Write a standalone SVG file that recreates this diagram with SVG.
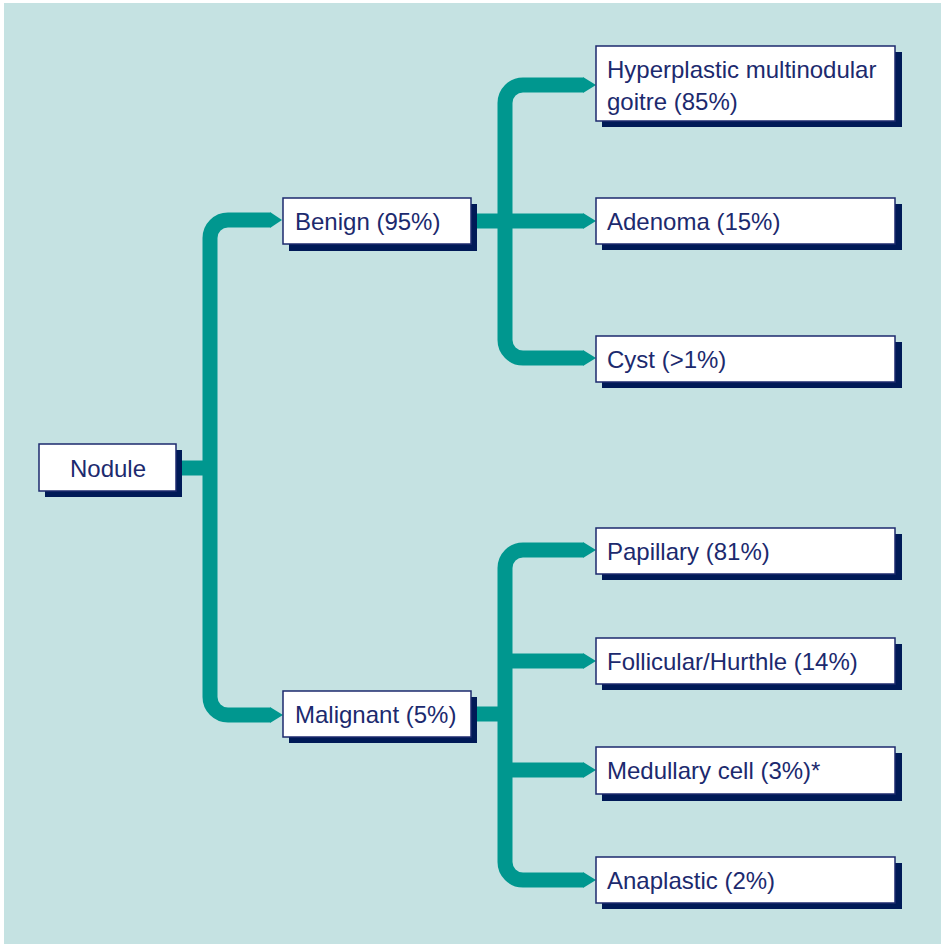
<svg xmlns="http://www.w3.org/2000/svg" width="941" height="944" viewBox="0 0 941 944">
<style>
.bg{fill:#c5e2e2}
.sh{fill:#001a57}
.bx{fill:#ffffff;stroke:#1c2a6e;stroke-width:1.5}
.t{font-family:"Liberation Sans",Arial,sans-serif;font-size:24px;fill:#1c2a6e}
.c{fill:none;stroke:#00978f;stroke-width:15;stroke-linecap:butt;stroke-linejoin:miter}
.h{fill:#00978f}
</style>
<rect class="bg" x="4" y="3" width="937" height="941"/>
<g id="connectors">
<path class="c" d="M176,468 H210"/>
<path class="c" d="M270,220 H228 A18,18 0 0 0 210,238 V697 A18,18 0 0 0 228,715 H270"/>
<polygon class="h" points="270,212 282,220 270,228"/>
<polygon class="h" points="270,707 283,715 270,723"/>
<path class="c" d="M470,221 H583"/>
<path class="c" d="M583,85 H523 A18,18 0 0 0 505,103 V340 A18,18 0 0 0 523,358 H583"/>
<polygon class="h" points="583,77 596,85 583,93"/>
<polygon class="h" points="583,213 596,221 583,229"/>
<polygon class="h" points="583,350 596,358 583,366"/>
<path class="c" d="M470,714 H505"/>
<path class="c" d="M583,550 H523 A18,18 0 0 0 505,568 V862 A18,18 0 0 0 523,880 H583"/>
<path class="c" d="M505,661 H583"/>
<path class="c" d="M505,770 H583"/>
<polygon class="h" points="583,542 596,550 583,558"/>
<polygon class="h" points="583,653 596,661 583,669"/>
<polygon class="h" points="583,762 596,770 583,778"/>
<polygon class="h" points="583,872 596,880 583,888"/>
</g>
<g id="nodule">
<rect class="sh" x="45" y="450" width="137" height="47"/>
<rect class="bx" x="39" y="444" width="137" height="47"/>
<text class="t" x="108" y="477" text-anchor="middle">Nodule</text>
</g>
<g id="benign">
<rect class="sh" x="289" y="204" width="188" height="47"/>
<rect class="bx" x="283" y="198" width="188" height="46"/>
<text class="t" x="295" y="230">Benign (95%)</text>
</g>
<g id="malignant">
<rect class="sh" x="289" y="697" width="188" height="46"/>
<rect class="bx" x="283" y="691" width="188" height="46"/>
<text class="t" x="295" y="723">Malignant (5%)</text>
</g>
<g id="hyperplastic">
<rect class="sh" x="602" y="52" width="300" height="75"/>
<rect class="bx" x="596" y="46" width="299" height="75"/>
<text class="t" x="607" y="78">Hyperplastic multinodular</text>
<text class="t" x="607" y="110">goitre (85%)</text>
</g>
<g id="adenoma">
<rect class="sh" x="602" y="204" width="300" height="46"/>
<rect class="bx" x="596" y="198" width="299" height="46"/>
<text class="t" x="607" y="230">Adenoma (15%)</text>
</g>
<g id="cyst">
<rect class="sh" x="602" y="342" width="300" height="46"/>
<rect class="bx" x="596" y="336" width="299" height="46"/>
<text class="t" x="607" y="368">Cyst (&gt;1%)</text>
</g>
<g id="papillary">
<rect class="sh" x="602" y="534" width="300" height="46"/>
<rect class="bx" x="596" y="528" width="299" height="46"/>
<text class="t" x="607" y="560">Papillary (81%)</text>
</g>
<g id="follicular">
<rect class="sh" x="602" y="644" width="300" height="46"/>
<rect class="bx" x="596" y="638" width="299" height="46"/>
<text class="t" x="607" y="670">Follicular/Hurthle (14%)</text>
</g>
<g id="medullary">
<rect class="sh" x="602" y="753" width="300" height="48"/>
<rect class="bx" x="596" y="747" width="299" height="47"/>
<text class="t" x="607" y="779">Medullary cell (3%)*</text>
</g>
<g id="anaplastic">
<rect class="sh" x="602" y="863" width="300" height="46"/>
<rect class="bx" x="596" y="857" width="299" height="46"/>
<text class="t" x="607" y="889">Anaplastic (2%)</text>
</g>
</svg>
